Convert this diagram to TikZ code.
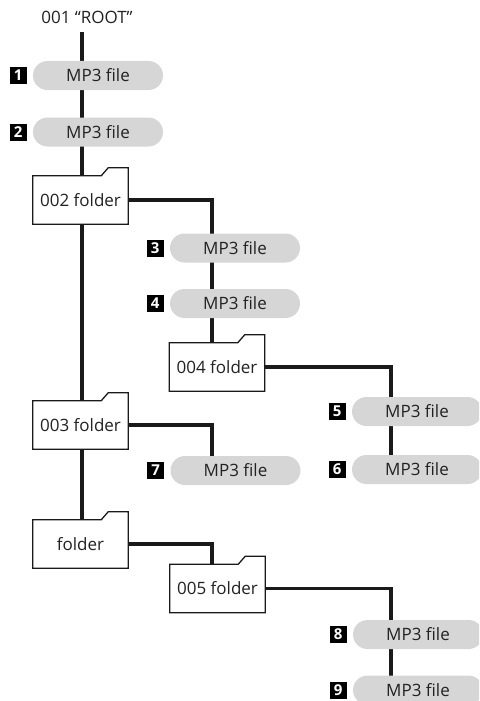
\documentclass[tikz,border=0pt]{standalone}
\usepackage{fontspec}
\setmainfont{Open Sans}
\usetikzlibrary{positioning,calc,backgrounds,shapes.misc}
\definecolor{pillgray}{HTML}{D6D6D6}
\definecolor{inkgray}{HTML}{222222}
\definecolor{wire}{HTML}{1A1A1A}
\tikzset{
  pillbox/.style={rounded rectangle, fill=pillgray, draw=none, minimum width=130pt,
                  minimum height=29pt, inner sep=0pt, text=inkgray, font=\fontsize{17}{19}\selectfont},
  numbox/.style={fill=black, text=white, minimum size=17pt, inner sep=0pt,
                 font=\fontsize{15}{15}\selectfont\bfseries},
  folderbox/.style={minimum width=95pt, minimum height=48pt, inner sep=0pt,
                    text=inkgray, font=\fontsize{17}{19}\selectfont},
  folderline/.style={draw=wire, line width=1.3pt, fill=white, line join=miter},
  trunk/.style={draw=wire, line width=3.2pt}}

\begin{document}
\begin{tikzpicture}[x=1pt,y=1pt]
  \useasboundingbox (0,0) rectangle (479,-701);
  \clip (0,0) rectangle (479,-701);

  \node[font=\fontsize{17}{19}\selectfont, text=inkgray] (root) at (87,-17) {001 “ROOT”};
  \coordinate (colA) at (82,-32);
  \coordinate (colB) at (212,0);
  \coordinate (colC) at (391,0);

  % folders
  \node[folderbox] (f2) at (80.5,-200) {002 folder};
  \node[folderbox] (f3) at (80.5,-425) {003 folder};
  \node[folderbox] (f6) at (80.5,-544) {folder};
  \node[folderbox] (f4) at (217,-367) {004 folder};
  \node[folderbox] (f5) at (217.5,-588.5) {005 folder};

  % files
  \node[pillbox] (p1) at (98,-75.5) {MP3 file};
  \node[pillbox] (p2) at (98,-132) {MP3 file};
  \node[pillbox] (p3) at (235,-248) {MP3 file};
  \node[pillbox] (p4) at (235,-303.5) {MP3 file};
  \node[pillbox] (p5) at (417,-411.5) {MP3 file};
  \node[pillbox] (p6) at (417,-469.5) {MP3 file};
  \node[pillbox] (p7) at (235.5,-470.5) {MP3 file};
  \node[pillbox] (p8) at (418,-634.5) {MP3 file};
  \node[pillbox] (p9) at (418,-690) {MP3 file};

  \foreach \i in {1,...,9}
    \node[numbox, left=6pt of p\i] (n\i) {\i};

  \begin{scope}[on background layer]
    \draw[trunk] (colA) -- (colA |- f6.north);
    \draw[trunk] (f2.east) -| (colB |- f4.north);
    \draw[trunk] (f3.east) -| (colB |- p7.center);
    \draw[trunk] (f6.east) -| (colB |- f5.north);
    \draw[trunk] (f4.east) -| (colC |- p6.center);
    \draw[trunk] (f5.east) -| (colC |- p9.center);
    \foreach \f in {f2,f3,f4,f5,f6}
      \draw[folderline] (\f.south west) -- (\f.north west)
        -- ($(\f.north east)+(-27,0)$) -- ++(7,8)
        -- ($(\f.north east)+(0,8)$) -- (\f.south east) -- cycle;
  \end{scope}
\end{tikzpicture}
\end{document}
